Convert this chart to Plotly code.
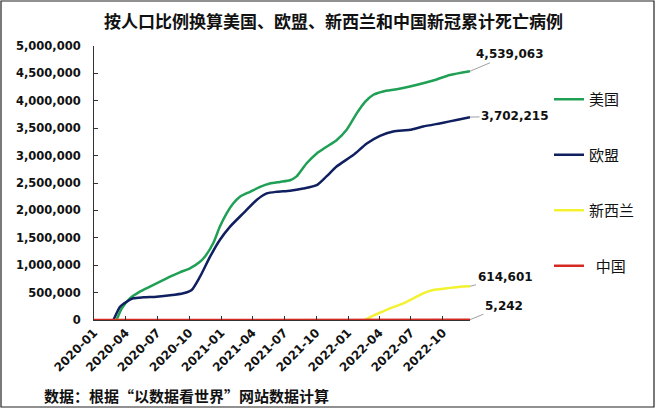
import plotly.graph_objects as go

# ---- data ----
us_dates = ["2020-03-06", "2020-03-21", "2020-04-14", "2020-05-12", "2020-06-10", "2020-07-09",
            "2020-08-07", "2020-09-04", "2020-10-03", "2020-11-01", "2020-11-15", "2020-12-09",
            "2020-12-28", "2021-01-17", "2021-02-05", "2021-02-24", "2021-03-25", "2021-04-23",
            "2021-05-21", "2021-06-19", "2021-07-18", "2021-08-06", "2021-09-04", "2021-10-03",
            "2021-10-31", "2021-11-29", "2021-12-28", "2022-01-26", "2022-02-19", "2022-03-15",
            "2022-04-12", "2022-05-21", "2022-06-28", "2022-08-05", "2022-09-13", "2022-10-21",
            "2022-12-18"]
us_values = [0, 213000, 396000, 517000, 608000, 699000,
             790000, 870000, 943000, 1064000, 1155000, 1400000,
             1700000, 1950000, 2130000, 2250000, 2340000, 2430000,
             2490000, 2520000, 2550000, 2620000, 2860000, 3040000,
             3160000, 3280000, 3470000, 3770000, 3980000, 4110000,
             4170000, 4210000, 4260000, 4320000, 4390000, 4470000,
             4539063]

eu_dates = ["2020-02-26", "2020-03-16", "2020-04-04", "2020-04-23", "2020-05-22", "2020-06-29",
            "2020-08-07", "2020-09-14", "2020-10-08", "2020-11-01", "2020-11-30", "2020-12-28",
            "2021-01-26", "2021-03-06", "2021-04-13", "2021-05-12", "2021-06-10", "2021-07-18",
            "2021-08-25", "2021-10-03", "2021-10-31", "2021-11-29", "2022-01-16", "2022-02-24",
            "2022-04-03", "2022-05-11", "2022-06-28", "2022-08-05", "2022-10-02", "2022-11-09",
            "2022-12-18"]
eu_values = [0, 243000, 334000, 396000, 414000, 426000,
             450000, 487000, 547000, 790000, 1155000, 1460000,
             1700000, 1950000, 2190000, 2310000, 2340000, 2360000,
             2400000, 2460000, 2620000, 2800000, 3010000, 3220000,
             3360000, 3440000, 3470000, 3530000, 3600000, 3650000,
             3702215]

nz_dates = ["2020-03-01", "2022-02-19", "2022-03-05", "2022-04-03", "2022-05-02", "2022-06-09",
            "2022-07-08", "2022-08-05", "2022-09-03", "2022-10-12", "2022-11-19", "2022-12-18"]
nz_values = [0, 0, 49000, 134000, 213000, 304000,
             396000, 487000, 547000, 578000, 608000, 614601]

cn_dates = ["2020-01-01", "2022-12-18"]
cn_values = [0, 5242]

series_names = ["美国", "欧盟", "新西兰", "\u00a0\u00a0中国"]
series_colors = ["#1fa055", "#0f1f5f", "#f2f230", "#d42a22"]
end_labels = ["4,539,063", "3,702,215", "614,601", "5,242"]

title_text = "按人口比例换算美国、欧盟、新西兰和中国新冠累计死亡病例"
source_text = "数据：根据“以数据看世界”网站数据计算"

# ---- figure ----
W, H = 660, 409
L, R, T, B = 94, 190, 46, 89
pw, ph = W - L - R, H - T - B

def px_x(p):
    return (p - L) / pw

def px_y(p):
    return (H - B - p) / ph

fig = go.Figure()
all_series = [(us_dates, us_values), (eu_dates, eu_values), (nz_dates, nz_values), (cn_dates, cn_values)]
for i, ((d, v), name, col) in enumerate(zip(all_series, series_names, series_colors)):
    fig.add_trace(go.Scatter(x=d, y=v, mode="lines", name=name,
                             line=dict(color=col, width=2.5, shape="spline", smoothing=0.6),
                             legendgroup=f"g{i}", cliponaxis=False))

label_offsets = [(40, -17), (45, -1), (35, -9), (34, -14)]
for (d, v), lab, (ax, ay) in zip(all_series, end_labels, label_offsets):
    fig.add_annotation(x=d[-1], y=v[-1], text=f"<b>{lab}</b>", showarrow=True, arrowhead=0,
                       arrowwidth=1, arrowcolor="#a0a0a0", ax=ax, ay=ay,
                       font=dict(family="DejaVu Sans", size=12, color="#111"))

fig.add_annotation(xref="paper", yref="paper", x=px_x(333), y=px_y(20), text=f"<b>{title_text}</b>",
                   showarrow=False, xanchor="center", yanchor="middle",
                   font=dict(family="Noto Sans CJK SC", size=17, color="#111"))
fig.add_annotation(xref="paper", yref="paper", x=px_x(42), y=px_y(396), text=f"<b>{source_text}</b>",
                   showarrow=False, xanchor="left", yanchor="middle",
                   font=dict(family="Noto Sans CJK SC", size=15, color="#111"))

fig.add_shape(type="rect", xref="paper", yref="paper", x0=px_x(1), x1=px_x(654), y0=px_y(407), y1=px_y(1),
              line=dict(color="#222", width=1.2), layer="below")

fig.update_layout(
    width=W, height=H, margin=dict(l=L, r=R, t=T, b=B, autoexpand=False),
    paper_bgcolor="white", plot_bgcolor="white",
    showlegend=True,
    legend=dict(x=px_x(549), y=px_y(83), xanchor="left", yanchor="top",
                font=dict(family="Noto Sans CJK SC", size=15, color="#111"),
                tracegroupgap=33, itemwidth=30, bgcolor="rgba(0,0,0,0)", traceorder="grouped"),
    xaxis=dict(type="date", range=["2020-01-01", "2022-12-18"], tick0="2020-01-01", dtick="M3",
               tickformat="%Y-%m", tickangle=-45, showgrid=False, zeroline=False,
               showline=True, linecolor="#333", linewidth=1, ticks="inside", ticklen=4,
               tickcolor="#333", tickfont=dict(family="DejaVu Sans", size=12, color="#111"),
               ticklabelposition="outside"),
    yaxis=dict(range=[0, 5000000], dtick=500000, tickformat=",", showgrid=False, zeroline=False,
               showline=True, linecolor="#333", linewidth=1, ticks="inside", ticklen=4,
               ticklabelstandoff=10,
               tickcolor="#333", tickfont=dict(family="DejaVu Sans", size=11.5, color="#111")),
)
fig.update_xaxes(tickprefix="<b>", ticksuffix="</b>")
fig.update_yaxes(tickprefix="<b>", ticksuffix="</b>")

fig.write_html("out.html", config={"displayModeBar": False},
               post_script="document.body.style.margin='0';document.body.style.overflow='hidden';")
